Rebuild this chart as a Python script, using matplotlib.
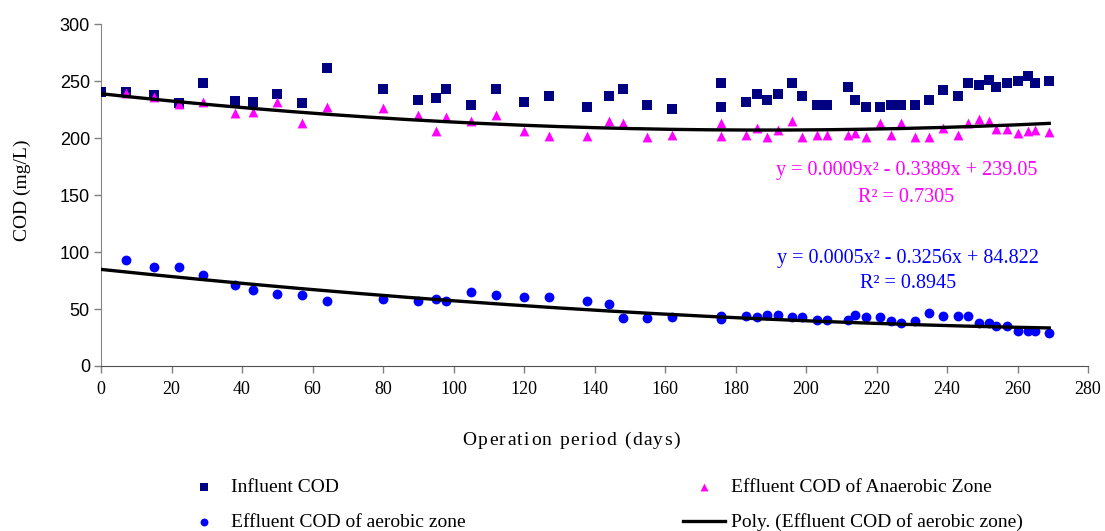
import matplotlib
matplotlib.use('Agg')
import matplotlib.pyplot as plt
import numpy as np
from matplotlib import font_manager
from matplotlib.ft2font import FT2Font

# sampling days (day 0 only has an influent sample)
days = [0, 7, 15, 22, 29, 38, 43, 50, 57, 64, 80, 90, 95, 98, 105, 112, 120,
        127, 138, 144, 148, 155, 162, 176, 176, 183, 186, 189, 192, 196, 199,
        203, 206, 212, 214, 217, 221, 224, 227, 231, 235, 239, 243, 246, 249,
        252, 254, 257, 260, 263, 265, 269]
eff_days = days[1:]

influent_cod = [240.8, 240.8, 237.9, 231.2, 248.7, 232.7, 232.0, 239.1, 231.2,
                261.9, 243.2, 233.5, 235.6, 243.2, 229.4, 243.2, 231.8, 237.0,
                227.4, 237.0, 243.2, 229.4, 225.6, 248.7, 227.6, 232.0, 239.1,
                233.8, 239.1, 248.7, 237.3, 229.4, 229.4, 245.2, 233.8, 227.6,
                227.6, 229.4, 229.4, 229.4, 233.8, 242.6, 237.3, 248.7, 247.0,
                250.8, 245.2, 248.7, 250.5, 254.6, 248.7, 250.5]

anaerobic_cod = [239.4, 236.4, 229.8, 231.5, 221.9, 223.0, 231.8, 213.6, 227.7,
                 226.3, 220.4, 206.6, 218.6, 214.8, 220.1, 206.3, 201.7, 201.7,
                 215.1, 213.6, 201.3, 202.8, 213.1, 201.9, 202.8, 209.2, 201.1,
                 206.9, 215.4, 200.8, 202.8, 202.8, 202.8, 204.6, 200.8, 213.6,
                 202.8, 213.6, 200.8, 200.8, 208.7, 202.5, 213.6, 216.9, 215.1,
                 208.1, 208.1, 204.3, 206.3, 207.2, 205.2]

aerobic_cod = [93.1, 86.7, 86.7, 80.2, 71.4, 67.0, 63.5, 62.1, 57.1, 58.6,
               56.8, 58.8, 57.1, 65.2, 62.1, 60.3, 60.6, 56.8, 54.2, 42.1,
               42.1, 43.3, 44.0, 41.0, 44.2, 42.8, 44.8, 45.0, 42.8, 42.8,
               40.4, 40.4, 40.4, 44.8, 42.8, 42.8, 39.2, 37.5, 39.8, 46.3,
               44.2, 44.2, 44.2, 37.5, 37.5, 35.1, 35.4, 30.7, 30.5, 30.5, 28.7]

# 2nd order polynomial trendlines, y = a*x^2 + b*x + c
anaerobic_fit = [0.0009, -0.3389, 239.05]
anaerobic_r2 = 0.7305
aerobic_fit = [0.0005, -0.3256, 84.822]
aerobic_r2 = 0.8945

SERIF = 'Liberation Serif'
SANS = 'Liberation Sans'
W, H = 1105, 531


def equation(fit):
    a, b, c = fit
    return f"y = {a}x\u00b2 - {abs(b)}x + {c}"


def spaced_text(fig, s, cx, baseline, size, track, family=SERIF):
    # draw a string one glyph at a time with extra letter spacing (pixels)
    font = FT2Font(font_manager.findfont(font_manager.FontProperties(family=family)),
                   hinting_factor=1)
    font.set_size(size, fig.dpi)
    adv = [font.load_char(ord(ch)).linearHoriAdvance / 65536 for ch in s]
    x = cx - (sum(adv) + track * (len(s) - 1)) / 2
    for ch, a in zip(s, adv):
        fig.text(x / W, 1 - baseline / H, ch, fontsize=size, family=family,
                 ha='left', va='baseline')
        x += a + track


fig = plt.figure(figsize=(W / 100, H / 100), dpi=100)
ax = fig.add_axes([101 / W, 1 - 366 / H, 987 / W, 341.7 / H])

sq = ax.scatter(days, influent_cod, marker='s', s=45, color='#000080',
                linewidths=0, zorder=3, label='Influent COD')
tri = ax.scatter(eff_days, anaerobic_cod, marker='^', s=50, color='#FF00FF',
                 linewidths=0, zorder=4, label='Effluent COD of Anaerobic Zone')
dots = ax.scatter(eff_days, aerobic_cod, marker='o', s=50, color='#0000FF',
                  linewidths=0, zorder=4, label='Effluent COD of aerobic zone')

xx = np.linspace(0, max(days), 300)
ax.plot(xx, np.polyval(anaerobic_fit, xx), color='black', lw=2.4, zorder=5)
poly, = ax.plot(xx, np.polyval(aerobic_fit, xx), color='black', lw=2.4, zorder=5,
                label='Poly. (Effluent COD of aerobic zone)')

ax.set_xlim(0, 280)
ax.set_ylim(0, 300)
ax.set_xticks(np.arange(0, 281, 20))
ax.set_xticklabels([str(v) for v in range(0, 281, 20)], family=SERIF, fontsize=13)
ax.set_yticks(np.arange(0, 301, 50))
ax.set_yticklabels([str(v) for v in range(0, 301, 50)], family=SANS, fontsize=13)
ax.tick_params(direction='out', length=5, width=1, color='#808080')
ax.tick_params(axis='x', pad=6)
ax.tick_params(axis='y', pad=3)

for side in ['top', 'right']:
    ax.spines[side].set_visible(False)
ax.spines['left'].set_color('#868686')
ax.spines['bottom'].set_color('#505050')

ax.set_ylabel('COD (mg/L)', family=SERIF, fontsize=14)
ax.yaxis.set_label_coords(-0.071, 0.515)
spaced_text(fig, 'Operation period (days)', 571, 445, 14, 1.6)

# trendline equations
ax.text(228.5, 171.5, equation(anaerobic_fit), color='#FF00FF', family=SERIF,
        fontsize=14.5, ha='center', va='center')
ax.text(228.5, 147.5, f"R\u00b2 = {anaerobic_r2}", color='#FF00FF', family=SERIF,
        fontsize=14.5, ha='center', va='center')
ax.text(229, 94.8, equation(aerobic_fit), color='#0000FF', family=SERIF,
        fontsize=14.5, ha='center', va='center')
ax.text(229, 72.8, f"R\u00b2 = {aerobic_r2}", color='#0000FF', family=SERIF,
        fontsize=14.5, ha='center', va='center')

fig.legend(handles=[sq, dots, tri, poly], ncol=2, loc='upper left',
           bbox_to_anchor=(183 / W, 1 - 478 / H), frameon=False,
           prop={'family': SERIF, 'size': 14}, handlelength=2.16,
           handletextpad=0.31, columnspacing=11.2, labelspacing=0.92,
           borderpad=0, borderaxespad=0, markerscale=0.8)

fig.savefig('out.png', dpi=100)
